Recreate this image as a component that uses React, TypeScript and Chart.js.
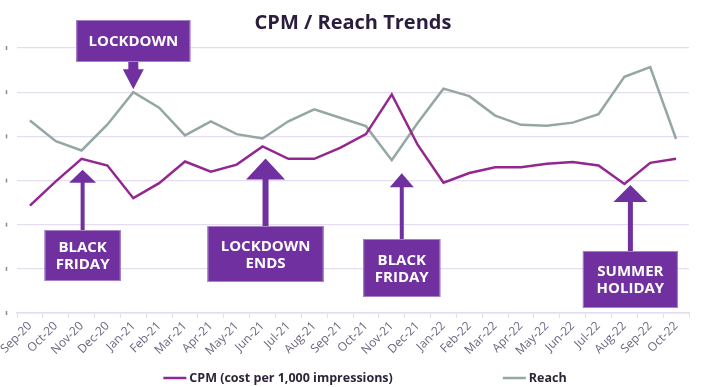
import React, { useEffect, useRef } from "react";
import { Chart, registerables } from "chart.js";

Chart.register(...registerables);

const categories = [
  "Sep-20", "Oct-20", "Nov-20", "Dec-20",
  "Jan-21", "Feb-21", "Mar-21", "Apr-21", "May-21", "Jun-21", "Jul-21", "Aug-21", "Sep-21", "Oct-21", "Nov-21", "Dec-21",
  "Jan-22", "Feb-22", "Mar-22", "Apr-22", "May-22", "Jun-22", "Jul-22", "Aug-22", "Sep-22", "Oct-22",
];
const cpmValues = [2.43, 2.98, 3.49, 3.34, 2.6, 2.94, 3.43, 3.2, 3.36, 3.77, 3.49, 3.49, 3.74, 4.05, 4.95, 3.81, 2.95, 3.17, 3.3, 3.3, 3.38, 3.42, 3.34, 2.92, 3.4, 3.49];
const reachValues = [4.36, 3.89, 3.68, 4.27, 5.0, 4.65, 4.02, 4.34, 4.05, 3.95, 4.34, 4.61, 4.42, 4.23, 3.46, 4.3, 5.08, 4.91, 4.47, 4.26, 4.24, 4.31, 4.5, 5.35, 5.57, 3.94];
const seriesLabels = ["CPM (cost per 1,000 impressions)", "Reach"];
const yMin = 0;
const yMax = 6;
const yStep = 1;
const chartTitle = "CPM / Reach Trends";

const annotationTexts = [["LOCKDOWN"], ["BLACK", "FRIDAY"], ["LOCKDOWN", "ENDS"], ["BLACK", "FRIDAY"], ["SUMMER", "HOLIDAY"]];
const annotationIndex = [4, 2, 9, 14, 23];
const annotationSeries = [1, 0, 0, 1, 0];

// geometry / style of annotation boxes (pixels)
const annotationLayout = [
  { dir: "down", dx: 0, gap: -3, headH: 20, headW: 21, shaftW: 10, boxW: 114, boxH: 42, boxY: 20 },
  { dir: "up", dx: 1, gap: 11, headH: 13, headW: 27, shaftW: 4, boxW: 76, boxH: 51, boxY: 230 },
  { dir: "up", dx: 3, gap: 12, headH: 21, headW: 39, shaftW: 6, boxW: 116, boxH: 56, boxY: 226 },
  { dir: "up", dx: 10, gap: 13, headH: 14, headW: 24, shaftW: 4, boxW: 77, boxH: 58, boxY: 239 },
  { dir: "up", dx: 6, gap: 1, headH: 17, headW: 34, shaftW: 5, boxW: 95, boxH: 57, boxY: 251 },
];

const FONT = "'Open Sans', 'DejaVu Sans', sans-serif";
const PURPLE = "#7030a0";
const CPM_COLOR = "#93278f";
const REACH_COLOR = "#95a7a2";
const GRID = "#e6dcf2";

const annotationPlugin = {
  id: "annotationsDraw",
  afterDatasetsDraw(chart: any) {
    const ctx = chart.ctx;
    const xs = chart.scales.x;
    const ys = chart.scales.y;
    const seriesData = [cpmValues, reachValues];
    ctx.save();
    annotationTexts.forEach((lines, i) => {
      const L: any = annotationLayout[i];
      const idx = annotationIndex[i];
      const v = seriesData[annotationSeries[i]][idx];
      const cx = xs.getPixelForValue(idx) + L.dx;
      const py = ys.getPixelForValue(v);
      const tipY = py + L.gap;
      const boxX = cx - L.boxW / 2;
      ctx.fillStyle = PURPLE;
      if (L.dir === "down") {
        const boxBottom = L.boxY + L.boxH;
        const baseY = tipY - L.headH;
        ctx.fillRect(cx - L.shaftW / 2, boxBottom - 1, L.shaftW, baseY - boxBottom + 2);
        ctx.beginPath();
        ctx.moveTo(cx - L.headW / 2, baseY);
        ctx.lineTo(cx + L.headW / 2, baseY);
        ctx.lineTo(cx, tipY);
        ctx.closePath();
        ctx.fill();
      } else {
        const baseY = tipY + L.headH;
        ctx.fillRect(cx - L.shaftW / 2, baseY - 1, L.shaftW, L.boxY - baseY + 2);
        ctx.beginPath();
        ctx.moveTo(cx - L.headW / 2, baseY);
        ctx.lineTo(cx + L.headW / 2, baseY);
        ctx.lineTo(cx, tipY);
        ctx.closePath();
        ctx.fill();
      }
      ctx.fillRect(boxX, L.boxY, L.boxW, L.boxH);
      ctx.strokeStyle = "#a682c4";
      ctx.lineWidth = 1;
      ctx.strokeRect(boxX + 0.5, L.boxY + 0.5, L.boxW - 1, L.boxH - 1);
      ctx.fillStyle = "#ffffff";
      ctx.font = `bold 15px ${FONT}`;
      ctx.textAlign = "center";
      ctx.textBaseline = "middle";
      const lh = 17;
      const cy = L.boxY + L.boxH / 2;
      lines.forEach((t, k) => {
        ctx.fillText(t, cx, cy + (k - (lines.length - 1) / 2) * lh + 1);
      });
    });
    ctx.restore();
  },
};

const yMarksPlugin = {
  id: "yMarks",
  afterDraw(chart: any) {
    const ctx = chart.ctx;
    const ys = chart.scales.y;
    ctx.save();
    ctx.strokeStyle = "#8f87a3";
    ctx.lineWidth = 1.5;
    ys.ticks.forEach((t: any) => {
      const y = ys.getPixelForValue(t.value);
      ctx.beginPath();
      ctx.moveTo(6.5, y - 2);
      ctx.lineTo(6.5, y + 2);
      ctx.stroke();
    });
    ctx.restore();
  },
};

const legendPlugin = {
  id: "customLegend",
  afterDraw(chart: any) {
    const ctx = chart.ctx;
    ctx.save();
    ctx.font = `bold 12.5px ${FONT}`;
    const lineLen = 23;
    const lineGap = 3;
    const itemGap = 110;
    const widths = chart.data.datasets.map((d: any) => lineLen + lineGap + ctx.measureText(d.label).width);
    const total = widths.reduce((a: number, b: number) => a + b, 0) + itemGap * (widths.length - 1);
    let x = 365 - total / 2;
    const y = 378;
    chart.data.datasets.forEach((d: any, i: number) => {
      ctx.strokeStyle = d.borderColor;
      ctx.lineWidth = 2.5;
      ctx.beginPath();
      ctx.moveTo(x, y);
      ctx.lineTo(x + lineLen, y);
      ctx.stroke();
      ctx.fillStyle = "#2d2438";
      ctx.textAlign = "left";
      ctx.textBaseline = "middle";
      ctx.fillText(d.label, x + lineLen + lineGap, y);
      x += widths[i] + itemGap;
    });
    ctx.restore();
  },
};

export default function App() {
  const ref = useRef<HTMLCanvasElement | null>(null);
  useEffect(() => {
    if (!ref.current) return;
    const chart = new Chart(ref.current, {
      type: "line",
      data: {
        labels: categories,
        datasets: [
          { label: seriesLabels[0], data: cpmValues, borderColor: CPM_COLOR, backgroundColor: CPM_COLOR, borderWidth: 2.5, pointRadius: 0, tension: 0 },
          { label: seriesLabels[1], data: reachValues, borderColor: REACH_COLOR, backgroundColor: REACH_COLOR, borderWidth: 2.5, pointRadius: 0, tension: 0 },
        ],
      },
      options: {
        animation: false,
        responsive: false,
        maintainAspectRatio: false,
        layout: { padding: { left: 17, right: 16, top: 0, bottom: 0 } },
        plugins: {
          legend: { display: false },
          tooltip: { enabled: false },
          title: {
            display: true,
            text: chartTitle,
            color: "#2b1d3d",
            font: { family: FONT, size: 20, weight: "bold" },
            padding: { top: 11, bottom: 13 },
          },
        },
        scales: {
          x: {
            offset: true,
            grid: { display: true, drawOnChartArea: false, drawTicks: true, tickLength: 5, color: GRID, offset: true },
            border: { display: true, color: GRID, width: 1.5 },
            ticks: { color: "#6e6480", font: { family: FONT, size: 12 }, minRotation: 45, maxRotation: 45, autoSkip: false, padding: 1 },
            afterFit(scale: any) {
              scale.height = 74;
            },
          },
          y: {
            min: yMin,
            max: yMax,
            ticks: { display: false, stepSize: yStep },
            grid: { color: GRID, lineWidth: 1.2, drawTicks: false },
            border: { display: false },
          },
        },
      },
      plugins: [annotationPlugin, yMarksPlugin, legendPlugin],
    });
    return () => chart.destroy();
  }, []);
  return (
    <div style={{ position: "absolute", left: 0, top: 0, width: 705, height: 387, background: "#fff" }}>
      <canvas ref={ref} width={705} height={387} style={{ width: 705, height: 387 }} />
    </div>
  );
}
